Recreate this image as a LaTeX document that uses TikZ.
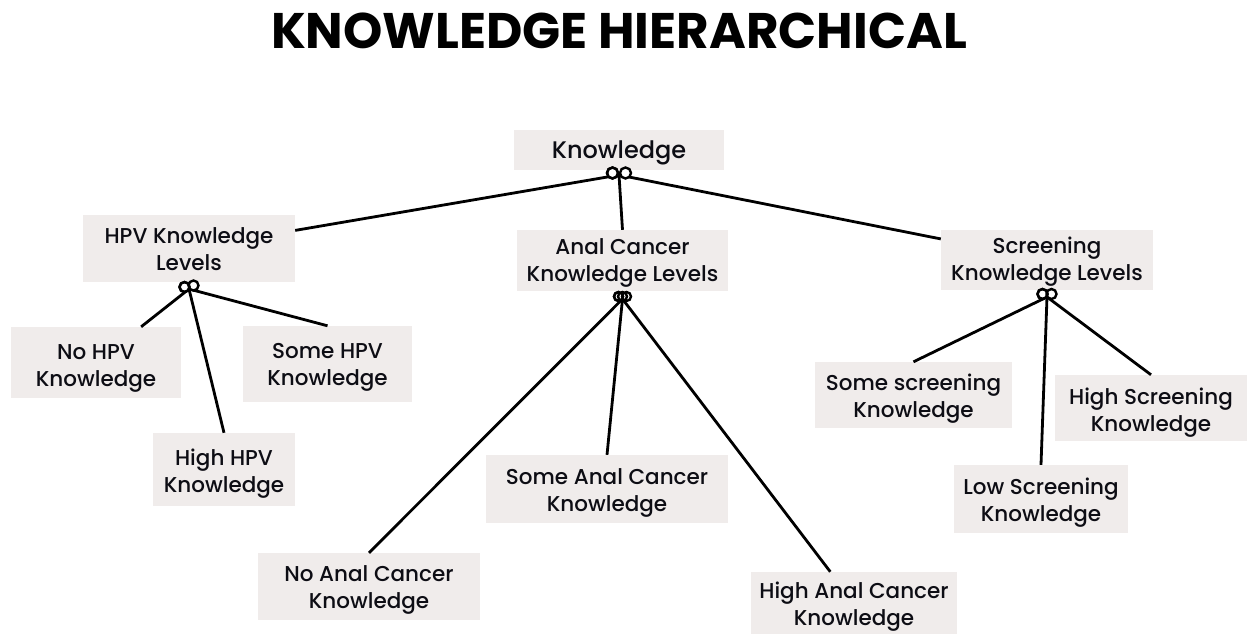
\documentclass[tikz,border=0pt]{standalone}
\usepackage{fontspec}
\setmainfont{Poppins}[UprightFont=* Medium]
\newfontfamily\titlefont{Poppins}[UprightFont=* Bold]
\definecolor{boxfill}{HTML}{F0ECEB}
\definecolor{inkc}{HTML}{0D0D14}
\newcommand{\kt}[2]{\raisebox{-#1pt}[\height][\depth]{\begin{tabular}{@{}c@{}}#2\end{tabular}}}
\begin{document}
\begin{tikzpicture}[x=1pt,y=-1pt,
  kbox/.style={fill=boxfill,draw=none,inner sep=0pt,align=center,text=inkc,
    font=\fontsize{21.5}{27}\selectfont},
  link/.style={line width=2.8pt,draw=black},
  ring/.style={line width=2.4pt,draw=black,fill=none}]
\useasboundingbox (0,0) rectangle (1248,634);
\fill[white] (0,0) rectangle (1248,634);
\node[inner sep=0pt,text=black] (title) at (619,31) {\titlefont\fontsize{50}{56}\selectfont KNOWLEDGE HIERARCHICAL};
% boxes
\node[kbox,minimum width=210pt,minimum height=40pt,font=\fontsize{24}{28}\selectfont] (know) at (619,150) {\kt{3}{Knowledge}};
\node[kbox,minimum width=212pt,minimum height=67pt] (hpv) at (189,248.5) {\kt{3.5}{HPV Knowledge\\Levels}};
\node[kbox,minimum width=211pt,minimum height=61pt] (anal) at (622.5,260.5) {\kt{2}{Anal Cancer\\Knowledge Levels}};
\node[kbox,minimum width=212pt,minimum height=60pt] (scr) at (1047,260) {\kt{2}{Screening\\Knowledge Levels}};
\node[kbox,minimum width=170pt,minimum height=71pt] (nohpv) at (96,362.5) {\kt{5}{No HPV\\Knowledge}};
\node[kbox,minimum width=169pt,minimum height=76pt] (somehpv) at (327.5,364) {\kt{3}{Some HPV\\Knowledge}};
\node[kbox,minimum width=142pt,minimum height=73pt] (highhpv) at (224,469.5) {\kt{4}{High HPV\\Knowledge}};
\node[kbox,minimum width=222pt,minimum height=67pt] (noanal) at (369,586.5) {\kt{3}{No Anal Cancer\\Knowledge}};
\node[kbox,minimum width=242pt,minimum height=68pt] (someanal) at (607,489) {\kt{4}{Some Anal Cancer\\Knowledge}};
\node[kbox,minimum width=206pt,minimum height=62pt] (highanal) at (854,603) {\kt{4}{High Anal Cancer\\Knowledge}};
\node[kbox,minimum width=197pt,minimum height=66pt] (somescr) at (913.5,395) {\kt{4}{Some screening\\Knowledge}};
\node[kbox,minimum width=192pt,minimum height=66pt] (highscr) at (1151,408) {\kt{5}{High Screening\\Knowledge}};
\node[kbox,minimum width=174pt,minimum height=68pt] (lowscr) at (1041,499) {\kt{4}{Low Screening\\Knowledge}};
% junctions
\coordinate (jk) at (619,175);
\coordinate (jh) at (189,289);
\coordinate (ja) at (622.5,299);
\coordinate (js) at (1047,297);
% links
\draw[link] (jk) -- (hpv);
\draw[link] (jk) -- (scr);
\draw[link] (jk) -- (anal.north);
\draw[link] (jh) -- (nohpv);
\draw[link] (jh) -- (highhpv.north);
\draw[link] (jh) -- (somehpv.north);
\draw[link] (ja) -- (noanal.north);
\draw[link] (ja) -- (someanal.north);
\draw[link] (ja) -- (highanal);
\draw[link] (js) -- (somescr.north);
\draw[link] (js) -- (lowscr.north);
\draw[link] (js) -- (highscr.north);
% rings
\draw[ring,fill=white] (612.5,173) circle (5.5pt) (625.5,173) circle (5.5pt);
\draw[ring] (612.5,173) circle (5.5pt);
\draw[ring,fill=white] (184.5,287) circle (5pt) (193.5,285.5) circle (5pt);
\draw[ring] (184.5,287) circle (5pt);
\draw[ring,fill=white] (618.5,296.5) circle (4.5pt) (626.5,296.5) circle (4.5pt);
\draw[ring] (618.5,296.5) circle (4.5pt) (622.5,296.5) circle (4.5pt);
\draw[ring,fill=white] (1042.5,294) circle (5pt) (1051.5,294) circle (5pt);
\draw[ring] (1042.5,294) circle (5pt);
\end{tikzpicture}
\end{document}
